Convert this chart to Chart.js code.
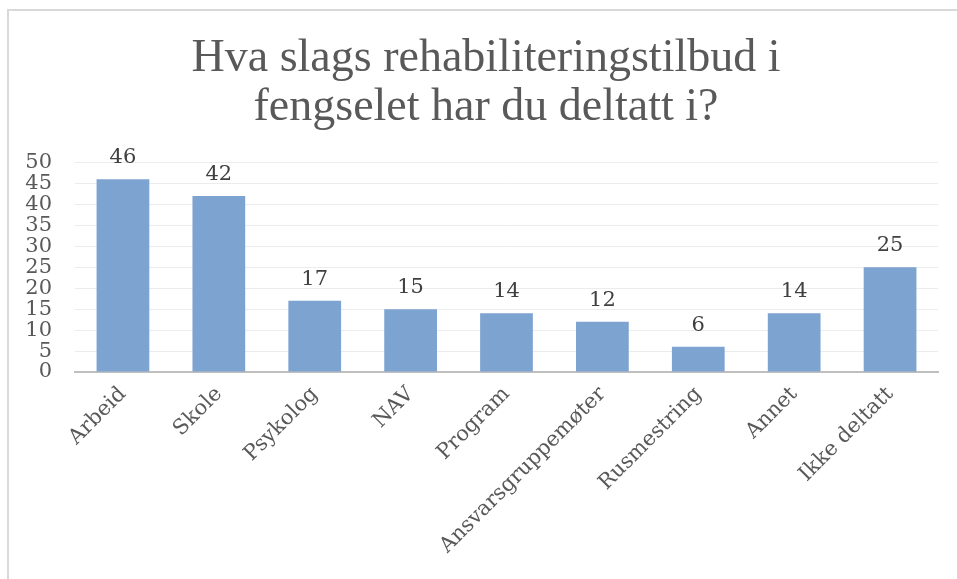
<!DOCTYPE html>
<html>
<head>
<meta charset="utf-8">
<script src="https://cdn.jsdelivr.net/npm/chart.js@4"></script>
<style>
  html, body { margin: 0; padding: 0; background: #fff; }
  #wrap { position: relative; width: 957px; height: 579px; overflow: hidden; }
  #frame { position: absolute; left: 7px; top: 9px; width: 980px; height: 600px;
           border-left: 2px solid #d9d9d9; border-top: 2px solid #d9d9d9; }
  #chart { position: absolute; left: 0; top: 0; }
</style>
</head>
<body>
<div id="wrap">
  <div id="frame"></div>
  <canvas id="chart" width="957" height="579"></canvas>
</div>
<script>
// Data
const titleLines = ['Hva slags rehabiliteringstilbud i', 'fengselet har du deltatt i?'];
const categories = ['Arbeid', 'Skole', 'Psykolog', 'NAV', 'Program',
  'Ansvarsgruppemøter', 'Rusmestring', 'Annet', 'Ikke deltatt'];
const counts = [46, 42, 17, 15, 14, 12, 6, 14, 25];
const yMin = 0, yMax = 50, yStep = 5;

const labelFont = { family: "'DejaVu Serif', serif", size: 21 };

// draws the value above each bar
const valueLabels = {
  id: 'valueLabels',
  afterDatasetsDraw(chart) {
    const ctx = chart.ctx;
    const meta = chart.getDatasetMeta(0);
    ctx.save();
    ctx.font = `${labelFont.size}px ${labelFont.family}`;
    ctx.fillStyle = '#404040';
    ctx.textAlign = 'center';
    ctx.textBaseline = 'alphabetic';
    meta.data.forEach((bar, i) => {
      ctx.fillText(String(counts[i]), bar.x, bar.y - 16);
    });
    ctx.restore();
  }
};

// the original title is centred a bit right of the canvas middle
const titleShift = {
  id: 'titleShift',
  afterLayout(chart) {
    if (chart.titleBlock) chart.titleBlock.left += 34;
  }
};

new Chart(document.getElementById('chart'), {
  type: 'bar',
  data: {
    labels: categories,
    datasets: [{
      data: counts,
      backgroundColor: '#7da3d1',
      borderWidth: 0,
      barPercentage: 0.55,
      categoryPercentage: 1
    }]
  },
  options: {
    responsive: false,
    animation: false,
    layout: { padding: { left: 0, right: 19, top: 0, bottom: 0 } },
    plugins: {
      legend: { display: false },
      tooltip: { enabled: false },
      title: {
        display: true,
        text: titleLines,
        color: '#595959',
        font: { family: "'Liberation Serif', 'Times New Roman', serif", size: 46, weight: 'normal', lineHeight: 1.05 },
        padding: { top: 35, bottom: 31 }
      }
    },
    scales: {
      x: {
        grid: { display: false, drawTicks: false },
        border: { display: true, color: '#bfbfbf', width: 2 },
        ticks: {
          color: '#595959',
          font: labelFont,
          minRotation: 45,
          maxRotation: 45,
          autoSkip: false,
          padding: 10
        },
        afterFit(scale) { scale.height = 207; }
      },
      y: {
        min: yMin,
        max: yMax,
        grid: { color: '#ececec', drawTicks: false },
        border: { display: false },
        ticks: {
          stepSize: yStep,
          autoSkip: false,
          color: '#595959',
          font: labelFont,
          padding: 23
        },
        afterFit(scale) { scale.width = 75; }
      }
    }
  },
  plugins: [valueLabels, titleShift]
});
</script>
</body>
</html>
